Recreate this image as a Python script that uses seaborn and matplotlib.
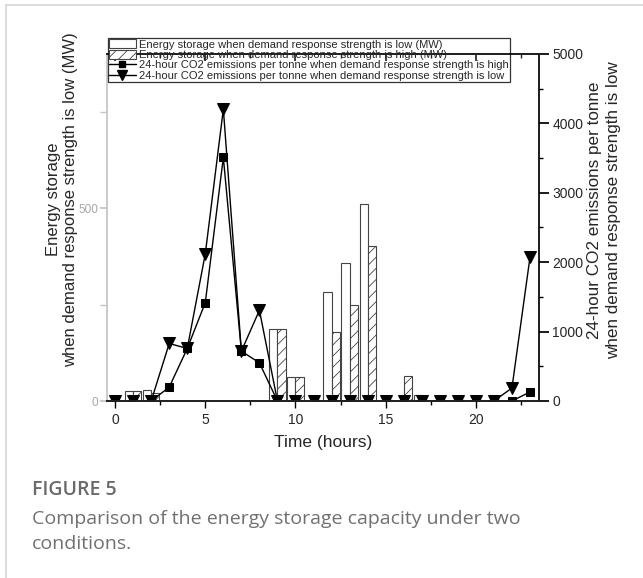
import numpy as np
import pandas as pd
import matplotlib
matplotlib.use("Agg")
import matplotlib.pyplot as plt
import seaborn as sns
from matplotlib.patches import Patch
from matplotlib.lines import Line2D
from matplotlib.ticker import MultipleLocator

# ---- data ----
hours = list(range(24))
storage_low = [0, 25, 28, 0, 0, 0, 0, 0, 0, 186, 63, 0, 283, 357, 510, 0, 0, 15, 0, 0, 0, 0, 0, 0]
storage_high = [0, 25, 22, 0, 0, 0, 0, 0, 0, 186, 63, 0, 178, 250, 402, 0, 66, 0, 0, 0, 0, 0, 0, 0]
co2_high = [0, 0, 0, 200, 757, 1418, 3510, 718, 550, 0, 0, 0, 0, 0, 0, 0, 0, 0, 0, 0, 0, 0, 0, 130]
co2_low = [0, 0, 0, 829, 757, 2122, 4205, 718, 1307, 0, 0, 0, 0, 0, 0, 0, 0, 0, 0, 0, 0, 0, 187, 2070]

lab_low = "Energy storage when demand response strength is low (MW)"
lab_high = "Energy storage when demand response strength is high (MW)"
lab_co2_high = "24-hour CO2 emissions per tonne when demand response strength is high"
lab_co2_low = "24-hour CO2 emissions per tonne when demand response strength is low"

sns.set_theme(style="ticks")
plt.rcParams['font.family'] = ['Liberation Sans', 'DejaVu Sans']
plt.rcParams['hatch.linewidth'] = 0.6

bars = pd.DataFrame({
    'hour': hours * 2,
    'storage': storage_low + storage_high,
    'condition': ['low'] * 24 + ['high'] * 24,
})

fig = plt.figure(figsize=(6.43, 5.78), dpi=100)
ax = fig.add_axes([107 / 643, 1 - 401 / 578, (539 - 107) / 643, (401 - 54) / 578])

# paired bars: low (white) left of the hour, high (hatched) right of it
sns.barplot(data=bars, x='hour', y='storage', hue='condition', hue_order=['low', 'high'],
            native_scale=True, width=0.9, palette=['white', 'white'], edgecolor='#444444',
            linewidth=0.8, saturation=1, legend=False, ax=ax)
for bar in ax.containers[1]:
    bar.set_hatch('///')

ax2 = ax.twinx()
sns.lineplot(x=hours, y=co2_high, ax=ax2, color='black', linewidth=1, marker='s',
             markersize=6, markeredgecolor='black')
sns.lineplot(x=hours, y=co2_low, ax=ax2, color='black', linewidth=1, marker='v',
             markersize=8.5, markeredgecolor='black')

ax.set_xlim(-0.45, 23.5)
ax.set_ylim(0, 900)
ax2.set_ylim(0, 5000)

# left axis: light grey
ax.yaxis.set_major_locator(MultipleLocator(500))
ax.yaxis.set_minor_locator(MultipleLocator(250))
ax.spines['left'].set_color('#c4c4c4')
ax.tick_params(axis='y', which='both', direction='out', length=5, color='#c4c4c4',
               labelcolor='#a8a8a8', labelsize=8.5, pad=1.5)
ax.spines['right'].set_visible(False)
ax2.spines['left'].set_visible(False)

# x axis
ax.xaxis.set_major_locator(MultipleLocator(5))
ax.xaxis.set_minor_locator(MultipleLocator(2.5))
ax.tick_params(axis='x', which='major', direction='out', length=5, width=1, labelsize=10, color='black')
ax.tick_params(axis='x', which='minor', direction='out', length=3, width=1, color='black')
ax.spines['bottom'].set_color('black')
ax.spines['top'].set_color('black')
top = ax.secondary_xaxis('top')
top.xaxis.set_major_locator(MultipleLocator(5))
top.xaxis.set_minor_locator(MultipleLocator(2.5))
top.tick_params(which='major', direction='in', length=5, labeltop=False)
top.tick_params(which='minor', direction='in', length=3)

# right axis
ax2.yaxis.set_major_locator(MultipleLocator(1000))
ax2.yaxis.set_minor_locator(MultipleLocator(500))
ax2.tick_params(axis='y', which='major', direction='out', length=7, labelsize=10, color='black', pad=2.5)
ax2.tick_params(axis='y', which='minor', direction='out', length=3, color='black')
ax2.spines['right'].set_color('black')

ax.set_xlabel("Time (hours)", fontsize=12.5, labelpad=6)
ax.set_ylabel("Energy storage\nwhen demand response strength is low (MW)", fontsize=12,
              linespacing=1.15)
ax.yaxis.set_label_coords(-0.068, 0.58)
ax2.set_ylabel("24-hour CO2 emissions per tonne\nwhen demand response strength is low", fontsize=12.3,
               rotation=90, linespacing=1.3)
ax2.yaxis.set_label_coords(1.111, 0.55)

handles = [
    Patch(facecolor='white', edgecolor='#444444', linewidth=0.8),
    Patch(facecolor='white', edgecolor='#444444', linewidth=0.8, hatch='///'),
    Line2D([], [], color='black', linewidth=1, marker='s', markersize=5),
    Line2D([], [], color='black', linewidth=1, marker='v', markersize=7),
]
leg = ax2.legend(handles, [lab_low, lab_high, lab_co2_high, lab_co2_low],
                 loc='upper left', bbox_to_anchor=(108 / 643, 1 - 38 / 578),
                 bbox_transform=fig.transFigure, fontsize=8.0, frameon=True, fancybox=False,
                 edgecolor='black', facecolor='none', framealpha=None, borderpad=0.1,
                 labelspacing=0.0, handlelength=2.4, handleheight=0.9, handletextpad=0.3,
                 borderaxespad=0)
leg.get_frame().set_linewidth(0.9)

# page frame and caption
fig.add_artist(Line2D([6 / 643, 6 / 643], [0, 1 - 5 / 578], color='#d6d6d6', linewidth=1.2))
fig.add_artist(Line2D([6 / 643, 1], [1 - 5 / 578, 1 - 5 / 578], color='#d6d6d6', linewidth=1.2))
fig.text(32 / 643, 1 - 490 / 578, "FIGURE 5", fontsize=14, color='#6a6a6a', fontweight='semibold',
         family=['Open Sans', 'DejaVu Sans'], va='center')
fig.text(32 / 643, 1 - 519 / 578, "Comparison of the energy storage capacity under two",
         fontsize=14, color='#707070', family=['Open Sans', 'DejaVu Sans'], va='center')
fig.text(32 / 643, 1 - 544 / 578, "conditions.", fontsize=14, color='#707070',
         family=['Open Sans', 'DejaVu Sans'], va='center')

fig.savefig("out.png", dpi=100)
